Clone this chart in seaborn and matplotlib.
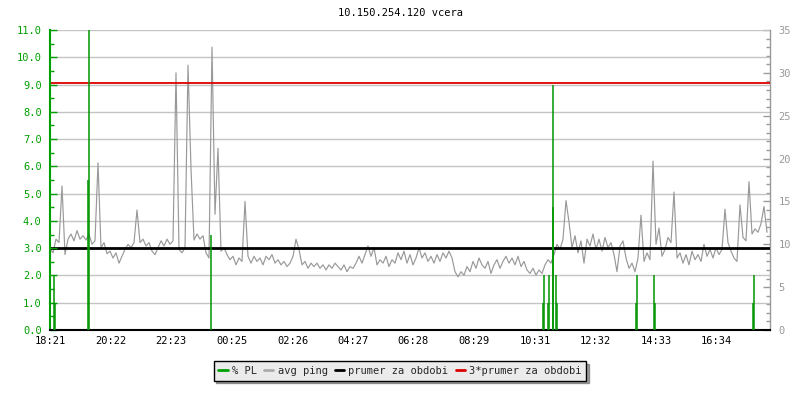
import numpy as np
import pandas as pd
import matplotlib
matplotlib.use("Agg")
import matplotlib.pyplot as plt
from matplotlib.lines import Line2D
from matplotlib.ticker import MultipleLocator, FormatStrFormatter
import seaborn as sns

# ---------------- data ----------------
title = "10.150.254.120 vcera"
tick_labels = ["18:21", "20:22", "22:23", "00:25", "02:26", "04:27",
               "06:28", "08:29", "10:31", "12:32", "14:33", "16:34"]
sample_step_min = 6  # minutes between ping samples

# average ping [ms], one value every 6 minutes from 18:21
ping_ms = [
    9.5, 9.0, 10.6, 10.2, 16.8, 8.8, 10.6, 11.2, 10.4, 11.6,
    10.6, 11.0, 10.5, 11.2, 10.0, 10.4, 19.5, 9.6, 10.2, 8.9,
    9.2, 8.4, 9.0, 7.8, 8.6, 9.4, 10.0, 9.6, 10.2, 14.0,
    10.2, 10.6, 9.8, 10.2, 9.2, 8.8, 9.6, 10.4, 9.8, 10.6,
    10.0, 10.4, 30.0, 9.4, 9.0, 9.6, 30.9, 18.8, 10.5,
    11.2, 10.6, 11.0, 9.0, 8.4, 33.0, 13.5, 21.2, 9.2, 9.6,
    8.8, 8.2, 8.6, 7.6, 8.4, 8.0, 15.0, 8.6, 7.8, 8.6,
    8.0, 8.4, 7.6, 8.6, 8.2, 8.8, 7.8, 8.2, 7.6, 8.0,
    7.4, 7.8, 8.6, 10.6, 9.4, 7.6, 8.0, 7.2, 7.8, 7.4,
    7.8, 7.2, 7.6, 7.0, 7.6, 7.2, 7.8, 7.4,
    7.0, 7.6, 6.8, 7.4, 7.2, 7.8, 8.6, 7.8, 8.8, 9.8,
    8.6, 9.6, 7.6, 8.2, 7.8, 8.6, 7.4, 8.2, 7.8, 9.0,
    8.2, 9.2, 7.8, 8.8, 7.6, 8.4, 9.6, 8.4, 9.0, 8.0,
    8.6, 7.8, 8.8, 8.0, 9.0, 8.4, 9.2, 8.4, 6.8, 6.2,
    6.8, 6.4, 7.4, 6.8, 8.0, 7.2, 8.4, 7.6,
    7.2, 8.0, 6.6, 7.6, 8.2, 7.2, 8.0, 8.6, 7.8, 8.4,
    7.6, 8.6, 7.4, 8.0, 7.0, 6.6, 7.2, 6.4, 7.0, 6.6,
    7.6, 8.2, 7.8, 8.8, 10.0, 9.4, 10.6, 15.1, 12.6, 9.6,
    11.0, 9.0, 10.4, 7.8, 10.6, 9.8, 11.2, 9.4, 10.6, 9.2,
    10.8, 9.6, 10.2, 8.8, 6.8, 9.8, 10.4, 8.4,
    7.2, 7.8, 6.8, 8.4, 13.4, 8.0, 9.0, 8.2, 19.7, 10.0,
    11.9, 8.6, 9.4, 10.8, 10.2, 16.1, 8.4, 9.0, 7.8, 8.8,
    7.6, 9.2, 8.2, 8.8, 8.0, 10.0, 8.6, 9.4, 8.4, 9.6,
    8.8, 9.4, 14.1, 10.2, 9.2, 8.4, 8.0, 14.6, 10.8, 10.4,
    17.3, 11.2, 11.8, 11.4, 12.4, 14.4, 11.4,
]

# packet loss events: minutes since 18:21 and % PL
pl_minutes = [8, 10, 76, 78, 322, 986, 988, 995, 997, 1005, 1006,
              1011, 1013, 1171, 1173, 1207, 1209, 1405, 1407]
pl_values = [2.0, 1.0, 5.5, 12.0, 3.5, 1.0, 2.0, 1.0, 2.0, 4.5, 9.0,
             2.0, 1.0, 1.0, 2.0, 2.0, 1.0, 1.0, 2.0]

avg_ping = 9.6          # prumer za obdobi
avg_ping_x3 = 28.8      # 3*prumer za obdobi

# ---------------- styling ----------------
sns.set_style("white")
plt.rcParams["font.family"] = ["DejaVu Sans Mono", "DejaVu Sans"]

FS = 7.5
GREEN = "#00a000"
PL_GREEN = "#009400"
GRAY = "#999999"
GRID = "#c4c4c4"
RED = "#dd0000"

fig = plt.figure(figsize=(8, 4), dpi=100)
ax = fig.add_axes([50 / 800, 70 / 400, 720 / 800, 300 / 400])
ax2 = ax.twinx()

ping_df = pd.DataFrame({
    "minute": np.arange(len(ping_ms)) * sample_step_min,
    "ping": ping_ms,
})

# ping on the right (ms) axis
sns.lineplot(data=ping_df, x="minute", y="ping", ax=ax2, color=GRAY,
             linewidth=0.85, zorder=2)
ax2.axhline(avg_ping, color="black", linewidth=2.0, zorder=4)
ax2.axhline(avg_ping_x3, color=RED, linewidth=1.3, zorder=4)

# packet loss on the left (%) axis
ax.set_zorder(ax2.get_zorder() + 1)
ax.patch.set_visible(False)
ax.vlines(pl_minutes, 0, pl_values, color=PL_GREEN, linewidth=1.1, zorder=5)

ax.set_ylim(0, 11)
ax2.set_ylim(0, 35)
ax.set_xlim(0, 1440)
# grid lines at the left-axis steps, drawn behind the ping line
for v in np.arange(1, 12):
    ax2.axhline(v * 35 / 11, color=GRID, linewidth=1.0, zorder=1)

# x ticks from labels
def to_min(lbl):
    h, m = map(int, lbl.split(":"))
    start = 18 * 60 + 21
    return (h * 60 + m - start) % 1440

ax.set_xticks([to_min(t) for t in tick_labels])
ax.set_xticklabels(tick_labels)
ax.set_xlabel("")
ax2.set_xlabel("")
ax2.set_ylabel("")

ax.yaxis.set_major_locator(MultipleLocator(1.0))
ax.yaxis.set_minor_locator(MultipleLocator(0.5))
ax.yaxis.set_major_formatter(FormatStrFormatter("%.1f"))
ax2.yaxis.set_major_locator(MultipleLocator(5))
ax2.yaxis.set_minor_locator(MultipleLocator(1))

ax.tick_params(axis="y", which="major", direction="in", length=5,
               color=GREEN, labelcolor=GREEN, labelsize=FS, width=1, pad=6)
ax.tick_params(axis="y", which="minor", direction="in", length=3,
               color=GREEN, width=1)
ax.tick_params(axis="x", which="major", direction="in", length=4,
               color="black", labelcolor="black", labelsize=FS, width=1, pad=4)
ax2.tick_params(axis="y", which="major", direction="in", length=5,
                color=GRAY, labelcolor=GRAY, labelsize=FS, width=1, pad=6)
ax2.tick_params(axis="y", which="minor", direction="in", length=3,
                color=GRAY, width=1)

for a in (ax, ax2):
    a.spines["top"].set_visible(False)
ax.spines["left"].set_color(GREEN)
ax.spines["left"].set_linewidth(1.5)
ax.spines["right"].set_visible(False)
ax.spines["bottom"].set_color("black")
ax.spines["bottom"].set_linewidth(1.5)
ax2.spines["left"].set_visible(False)
ax2.spines["bottom"].set_visible(False)
ax2.spines["right"].set_color(GRAY)
ax2.spines["right"].set_linewidth(1.0)
ax.grid(False)
ax2.grid(False)

fig.text(0.5, 1 - 13 / 400, title, ha="center", va="center", fontsize=FS,
         color="black")

handles = [
    Line2D([0], [0], color=GREEN, lw=2.0),
    Line2D([0], [0], color="#aaaaaa", lw=2.0),
    Line2D([0], [0], color="black", lw=2.0),
    Line2D([0], [0], color=RED, lw=2.0),
]
labels = ["% PL", "avg ping", "prumer za obdobi", "3*prumer za obdobi"]
leg = fig.legend(handles, labels, loc="center", bbox_to_anchor=(0.5, 1 - 371 / 400),
                 ncol=4, frameon=True, fancybox=False, shadow=True,
                 edgecolor="black", facecolor="#ebebeb", fontsize=FS,
                 handlelength=0.9, handletextpad=0.4, columnspacing=0.7,
                 borderpad=0.45, framealpha=1)
leg.get_frame().set_linewidth(1.0)

fig.savefig("out.png", dpi=100)
